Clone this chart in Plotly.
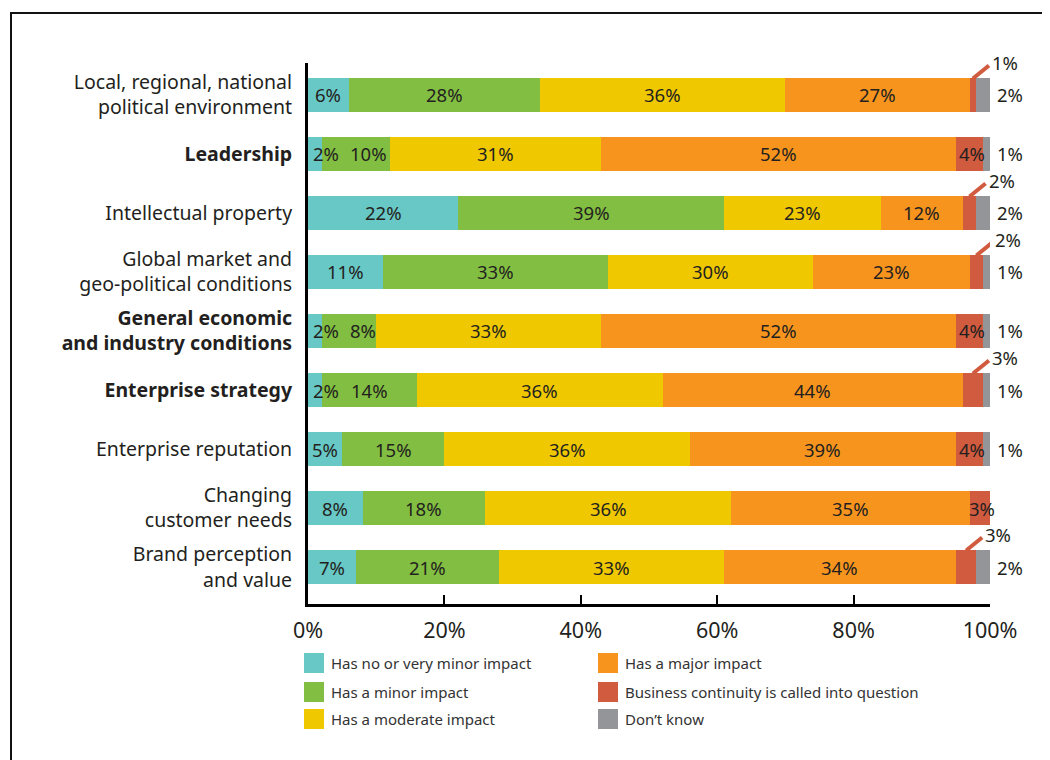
import plotly.graph_objects as go

categories = [
    "Local, regional, national<br>political environment",
    "<b>Leadership</b>",
    "Intellectual property",
    "Global market and<br>geo-political conditions",
    "<b>General economic<br>and industry conditions</b>",
    "<b>Enterprise strategy</b>",
    "Enterprise reputation",
    "Changing<br>customer needs",
    "Brand perception<br>and value",
]
no_impact = [6, 2, 22, 11, 2, 2, 5, 8, 7]
minor = [28, 10, 39, 33, 8, 14, 15, 18, 21]
moderate = [36, 31, 23, 30, 33, 36, 36, 36, 33]
major = [27, 52, 12, 23, 52, 44, 39, 35, 34]
continuity = [1, 4, 2, 2, 4, 3, 4, 3, 3]
dont_know = [2, 1, 2, 1, 1, 1, 1, 0, 2]

series_names = [
    "Has no or very minor impact",
    "Has a minor impact",
    "Has a moderate impact",
    "Has a major impact",
    "Business continuity is called into question",
    "Don\u2019t know",
]
colors = ["#68C8C6", "#82BE41", "#F0C800", "#F7941E", "#D05B3F", "#939598"]
x_ticks = [0, 20, 40, 60, 80, 100]

series = [no_impact, minor, moderate, major, continuity, dont_know]

FONT = "Noto Sans"
TXT = "#231F20"
W, H = 1050, 760
OFF = 8  # page body margin
ML, MR, MT, MB = 308 - OFF, 68, 63 - OFF, 164
PW = W - ML - MR
PH = H - MT - MB
BAR_W = 0.56
LBL = 18.5


def px2paper_x(px):
    return (px - OFF - ML) / PW


def px2paper_y(py):
    return (H - MB - (py - OFF)) / PH


fig = go.Figure()
for name, vals, col in zip(series_names, series, colors):
    fig.add_trace(go.Bar(
        y=list(range(len(categories))), x=vals, name=name, orientation="h",
        marker=dict(color=col, line=dict(width=0)), width=BAR_W,
        showlegend=False, hoverinfo="x+name",
    ))

annotations = []
shapes = []
units_per_px = 100 / PW
row_px = PH / 9.169
for i in range(len(categories)):
    vals = [s[i] for s in series]
    cum = 0
    starts = []
    for v in vals:
        starts.append(cum)
        cum += v
    for k in range(4):
        v = vals[k]
        if v <= 0:
            continue
        center = starts[k] + v / 2
        ann = dict(x=center, y=i, text=f"{v}%", showarrow=False,
                   font=dict(family=FONT, size=LBL, color=TXT),
                   xanchor="center", yanchor="middle")
        if k == 0 and v < 4:
            ann.update(x=0, xanchor="left", xshift=3)
        if k == 1 and vals[0] < 4:
            ann.update(x=0, xanchor="left", xshift=max(40, (center * PW / 100) - 20))
        annotations.append(ann)
    v = vals[4]
    g = vals[5]
    if v > 0:
        center = starts[4] + v / 2
        if v >= 4 or g == 0:
            annotations.append(dict(x=center, y=i, text=f"{v}%", showarrow=False,
                                    font=dict(family=FONT, size=LBL, color=TXT),
                                    xanchor="center", yanchor="middle", xshift=2))
        else:
            y0 = i - BAR_W / 2
            x1 = center + 16 * units_per_px
            y1 = y0 - 13 / row_px
            shapes.append(dict(type="line", xref="x", yref="y", x0=center, y0=y0,
                               x1=x1, y1=y1, line=dict(color=colors[4], width=4)))
            annotations.append(dict(x=center, y=y0, text=f"{v}%", showarrow=False,
                                    font=dict(family=FONT, size=LBL, color=TXT),
                                    xanchor="left", yanchor="middle",
                                    xshift=17, yshift=16))
    if g > 0:
        annotations.append(dict(x=100, y=i, text=f"{g}%", showarrow=False,
                                font=dict(family=FONT, size=LBL, color=TXT),
                                xanchor="left", yanchor="middle", xshift=5))

# manual legend (two columns)
leg_cols_px = [304, 598]
leg_rows_py = [663, 692, 719]
for idx, (name, col) in enumerate(zip(series_names, colors)):
    c = idx // 3
    r = idx % 3
    sx = leg_cols_px[c]
    sy = leg_rows_py[r]
    shapes.append(dict(type="rect", xref="paper", yref="paper",
                       x0=px2paper_x(sx), x1=px2paper_x(sx + 20),
                       y0=px2paper_y(sy + 10), y1=px2paper_y(sy - 10),
                       fillcolor=col, line=dict(width=0)))
    annotations.append(dict(xref="paper", yref="paper", x=px2paper_x(sx + 25),
                            y=px2paper_y(sy), text=name, showarrow=False,
                            xanchor="left", yanchor="middle",
                            font=dict(family=FONT, size=15, color="#333333")))

# outer frame (extends beyond the visible page on the right and bottom)
shapes.append(dict(type="rect", xref="paper", yref="paper",
                   x0=px2paper_x(11), x1=px2paper_x(W + 30),
                   y0=px2paper_y(H + 30), y1=px2paper_y(13),
                   line=dict(color="#111111", width=2), fillcolor="rgba(0,0,0,0)",
                   layer="below"))

fig.update_layout(
    barmode="stack",
    width=W, height=H,
    margin=dict(l=ML, r=MR, t=MT, b=MB, pad=0),
    paper_bgcolor="white", plot_bgcolor="white",
    font=dict(family=FONT, color=TXT),
    annotations=annotations,
    shapes=shapes,
    showlegend=False,
)
fig.update_xaxes(
    range=[0, 100], tickvals=x_ticks, ticktext=[f"{t}%" for t in x_ticks],
    showgrid=False, zeroline=False, showline=True, linecolor="black", linewidth=3,
    ticks="inside", ticklen=9, tickwidth=2, tickcolor="black",
    tickfont=dict(family=FONT, size=21.5, color=TXT), ticklabelstandoff=5,
)
fig.update_yaxes(
    range=[8.627, -0.542], tickvals=list(range(len(categories))), ticktext=categories,
    showgrid=False, zeroline=False, showline=True, linecolor="black", linewidth=3,
    ticks="", tickfont=dict(family=FONT, size=19.5, color=TXT), ticklabelstandoff=9,
)

fig.write_html("out.html")
